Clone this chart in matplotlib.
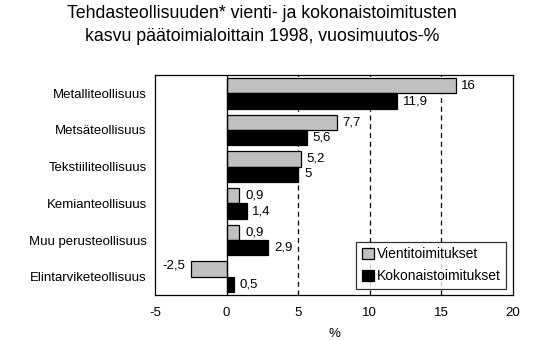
import matplotlib.pyplot as plt
import numpy as np

plt.rcParams['font.family'] = ['Liberation Sans', 'DejaVu Sans']

categories = ["Metalliteollisuus", "Metsäteollisuus", "Tekstiiliteollisuus",
              "Kemianteollisuus", "Muu perusteollisuus", "Elintarviketeollisuus"]
vienti = [16, 7.7, 5.2, 0.9, 0.9, -2.5]
kokonais = [11.9, 5.6, 5, 1.4, 2.9, 0.5]
vienti_labels = ["16", "7,7", "5,2", "0,9", "0,9", "-2,5"]
kokonais_labels = ["11,9", "5,6", "5", "1,4", "2,9", "0,5"]


def main():
    fig = plt.figure(figsize=(5.54, 3.40), dpi=100)
    ax = fig.add_axes([155 / 554, 1 - 295 / 340, 358 / 554, 220 / 340])

    y = np.arange(len(categories))
    h = 0.42
    ax.barh(y - h / 2, vienti, height=h, color="#c0c0c0", edgecolor="black",
            linewidth=0.9, label="Vientitoimitukset", zorder=3)
    ax.barh(y + h / 2, kokonais, height=h, color="black", edgecolor="black",
            linewidth=0.9, label="Kokonaistoimitukset", zorder=3)

    fs = 9.5
    for i in range(len(categories)):
        v = vienti[i]
        if v >= 0:
            ax.text(v + 0.4, y[i] - h / 2, vienti_labels[i], va="center", ha="left", fontsize=fs)
        else:
            ax.text(v - 0.4, y[i] - h / 2 - 0.1, vienti_labels[i], va="center", ha="right", fontsize=fs)
        ax.text(kokonais[i] + 0.4, y[i] + h / 2, kokonais_labels[i], va="center", ha="left", fontsize=fs)

    ax.set_xlim(-5, 20)
    ax.set_ylim(len(categories) - 0.5, -0.5)
    ax.set_xticks([-5, 0, 5, 10, 15, 20])
    ax.set_xticklabels(["-5", "0", "5", "10", "15", "20"])
    ax.set_yticks(y)
    ax.set_yticklabels(categories)
    ax.tick_params(length=0, labelsize=fs, pad=9)
    ax.tick_params(axis="y", pad=6)

    for xv in [5, 10, 15]:
        ax.axvline(xv, color="black", linestyle=(0, (4, 3)), linewidth=0.9, zorder=1)
    ax.axvline(0, color="black", linewidth=0.9, zorder=4)

    for s in ax.spines.values():
        s.set_linewidth(0.9)

    ax.set_xlabel("%", fontsize=fs, labelpad=6)

    leg = ax.legend(loc="lower right", fontsize=10, frameon=True, fancybox=False,
                    edgecolor="black", handlelength=0.9, handleheight=0.9,
                    handletextpad=0.15, borderpad=0.4, labelspacing=0.6,
                    borderaxespad=0, bbox_to_anchor=(506 / 554, 1 - 289 / 340),
                    bbox_transform=fig.transFigure)
    leg.get_frame().set_linewidth(0.9)

    fig.text(262 / 554, 1 - 5 / 340,
             "Tehdasteollisuuden* vienti- ja kokonaistoimitusten\nkasvu päätoimialoittain 1998, vuosimuutos-%",
             ha="center", va="top", fontsize=12.8, linespacing=1.45)

    fig.savefig("out.png", dpi=100)


if __name__ == "__main__":
    main()
